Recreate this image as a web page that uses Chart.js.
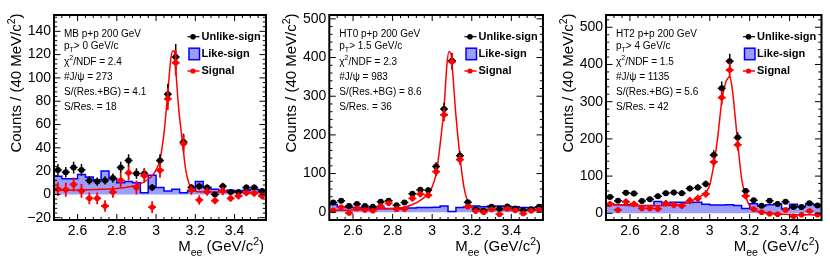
<!DOCTYPE html>
<html><head><meta charset="utf-8">
<script src="https://cdn.jsdelivr.net/npm/chart.js@4.4.0/dist/chart.umd.min.js"></script>
<style>
body{margin:0;background:#fff;width:830px;height:262px;position:relative;overflow:hidden}
canvas{position:absolute;top:0}
</style></head><body>
<canvas id="c1" width="277" height="262" style="left:0"></canvas>
<canvas id="c2" width="277" height="262" style="left:277px"></canvas>
<canvas id="c3" width="276" height="262" style="left:554px"></canvas>
<script>
// bin centres (GeV/c^2), 40 MeV bins
const mass = [2.50,2.54,2.58,2.62,2.66,2.70,2.74,2.78,2.82,2.86,2.90,2.94,2.98,3.02,3.06,3.10,3.14,3.18,3.22,3.26,3.30,3.34,3.38,3.42,3.46,3.50,3.54];
const xTicks = [2.6,2.8,3.0,3.2,3.4];

// MB
const unlike1 = [21,19,23,21,12,11,12,14,23,29,18,18,6,29,86,118,45,6,7,6,0,7,2,2,6,6,3];
const unlikeErr1 = [5,4.5,5,5,3.5,3.5,3.5,4,5,5.5,4.5,4.5,3,5.5,9,11,7,3,3,2.5,1.5,3,2,2,2.5,2.5,2];
const like1 = [15.5,13.5,13.5,17,15,12.5,20,13.5,10,11,10,1.5,16.5,6,3,4.5,1.5,3,11,6,4.5,3,3.5,3,3.5,4.5,3.5];
const signal1 = [4.5,4,8.5,3,-3.4,-3.4,-10,2,12,18.5,6,16,-11,20.7,82,113,43.5,3.7,-4.8,2.3,-5.4,2.8,-3.4,-1.4,1.4,0.9,-1.4];
const signalErr1 = [6,6,6,6,5,5,5,5,6,6.5,6,6,5,6.5,9.5,11,7.5,4,4,3.5,3,3.5,3,3,3,3,3];
const fitX1 = [2.48,2.6,2.7,2.8,2.88,2.92,2.96,2.98,3.0,3.02,3.04,3.06,3.075,3.085,3.093,3.10,3.115,3.135,3.15,3.17,3.19,3.22,3.3,3.56];
const fitY1 = [3.5,3.7,4.2,5,7,9,13,16,21,30,52,88,116,123,123,108,74,44,22,8,3,2.2,2,1.8];
const yTicks1 = [-20,0,20,40,60,80,100,120,140];

// HT0
const unlike2 = [25,30,16,21.5,16,14,27,30,18,25,48,58,57,118,267,392,146,26,8,4,14,9,15,10,5,8,14];
const unlikeErr2 = [5,5.5,4,4.5,4,4,5,5.5,4.5,5,7,7.5,7.5,11,16,20,12,5,3,2,4,3,4,3,2.5,3,4];
const like2 = [20,14,12,12,11,11,11,10,10,11,11,12,12,13,16,2,12,14,16,14,16,16,15,14,12,12,12];
const signal2 = [5,13,-2,10,6,4,16,23,8,8.5,36,47,44,105,252,389,136,14.5,3,0,7,-5,9,5,-3.5,4,7];
const signalErr2 = [6,6.5,5,5.5,5,5,6,6.5,5.5,6,8,8.5,8.5,12,17,21,13,6,4,3.5,5,4,5,4,3.5,4,5];
const fitX2 = [2.48,2.6,2.7,2.8,2.86,2.9,2.94,2.98,3.0,3.02,3.04,3.06,3.075,3.085,3.095,3.10,3.12,3.14,3.16,3.18,3.20,3.22,3.26,3.3,3.4,3.56];
const fitY2 = [5,6,8,10,13,20,31,48,66,100,175,272,385,415,410,385,250,145,66,27,15,11,8,7,6,6];
const yTicks2 = [0,100,200,300,400,500];

// HT2
const unlike3 = [44,34,55,53,33,38,45.5,54,56,54,67,69.5,79,157,336,409,204,60,35,20,33.5,25,31,17,17,27,21];
const unlikeErr3 = [6.5,6,7.5,7.5,6,6,7,7.5,7.5,7.5,8,8.5,9,12.5,18,20,14,8,6,4.5,6,5,5.5,4,4,5,4.5];
const like3 = [25,23,23,22,21,21,32,25,30,30,29,30,24,22,22,23,21,13,26,19,23,25,13,24,18,25,23];
const signal3 = [25,9,31,25,13,13,12,27,22,20,34,40,52,138,311,385,184,46.5,11,3,-1,-2.5,9,-8,-4,6,-4];
const signalErr3 = [8,7.5,8.5,8.5,7,7,7.5,8.5,8.5,8.5,9.5,10,10.5,14,19,21,15,9,7,6,7,6.5,7,6,6,6.5,6];
const fitX3 = [2.48,2.56,2.64,2.72,2.8,2.86,2.9,2.94,2.98,3.0,3.02,3.04,3.06,3.08,3.09,3.10,3.11,3.12,3.14,3.16,3.18,3.20,3.22,3.26,3.3,3.4,3.56];
const fitY3 = [24,22,20,20,21,24,31,42,56,76,130,205,300,352,362,368,345,300,190,92,45,20,10,3,0,-3,-4];
const yTicks3 = [0,100,200,300,400,500];

const FONT = "'Liberation Sans', Arial, Helvetica, sans-serif";

function richText(ctx, x, y, parts, size, weight, align) {
  // parts: [text, 0 normal | 1 subscript | 2 superscript]
  const f = (s) => (weight || '') + ' ' + s + 'px ' + FONT;
  let w = 0;
  parts.forEach(p => { ctx.font = f(p[1] ? size * 0.7 : size); w += ctx.measureText(p[0]).width; });
  let cx = align === 'right' ? x - w : (align === 'center' ? x - w / 2 : x);
  parts.forEach(p => {
    const s = p[1] ? size * 0.7 : size;
    ctx.font = f(s);
    const dy = p[1] === 1 ? size * 0.3 : (p[1] === 2 ? -size * 0.4 : 0);
    ctx.fillText(p[0], cx, y + dy);
    cx += ctx.measureText(p[0]).width;
  });
}

const errorBars = {
  id: 'errorBars',
  beforeDatasetDraw(chart, args) {
    const ds = chart.data.datasets[args.index];
    if (!ds.errs) return;
    const {ctx, chartArea: a, scales: {x, y}} = chart;
    ctx.save();
    ctx.beginPath(); ctx.rect(a.left, a.top, a.right - a.left, a.bottom - a.top); ctx.clip();
    ctx.strokeStyle = ds.borderColor; ctx.lineWidth = ds.errWidth;
    ds.data.forEach((p, i) => {
      const px = x.getPixelForValue(p.x), py = y.getPixelForValue(p.y);
      ctx.beginPath();
      ctx.moveTo(px, y.getPixelForValue(p.y - ds.errs[i]));
      ctx.lineTo(px, y.getPixelForValue(p.y + ds.errs[i]));
      ctx.moveTo(x.getPixelForValue(p.x - 0.02), py);
      ctx.lineTo(x.getPixelForValue(p.x + 0.02), py);
      ctx.stroke();
    });
    ctx.restore();
  }
};

function makePanel(id, o) {
  const pts = (ys) => mass.map((m, i) => ({x: m, y: ys[i]}));
  const hist = [];
  mass.forEach((m, i) => { hist.push({x: m - 0.02, y: o.like[i]}, {x: m + 0.02, y: o.like[i]}); });

  const decor = {
    id: 'decor',
    afterDraw(chart) {
      const {ctx, chartArea: a, scales: {x, y}} = chart;
      ctx.save();
      ctx.strokeStyle = '#000'; ctx.lineWidth = 1;
      // ticks on all four sides
      ctx.beginPath();
      for (let k = 63; k <= 88; k++) {
        const px = x.getPixelForValue(k * 0.04), L = k % 5 === 0 ? 6 : 3;
        ctx.moveTo(px, a.bottom); ctx.lineTo(px, a.bottom - L);
        ctx.moveTo(px, a.top); ctx.lineTo(px, a.top + L);
      }
      const k0 = Math.ceil(o.ymin / o.minor), k1 = Math.floor(o.ymax / o.minor);
      for (let k = k0; k <= k1; k++) {
        const py = y.getPixelForValue(k * o.minor), L = k % 5 === 0 ? 6.5 : 3.2;
        ctx.moveTo(a.left, py); ctx.lineTo(a.left + L, py);
        ctx.moveTo(a.right, py); ctx.lineTo(a.right - L, py);
      }
      ctx.stroke();
      ctx.lineWidth = 2;
      ctx.strokeRect(a.left, a.top, a.right - a.left, a.bottom - a.top);

      // axis titles
      ctx.fillStyle = '#000'; ctx.textBaseline = 'alphabetic';
      richText(ctx, a.right - 2, 251, [['M', 0], ['ee', 1], [' (GeV/c', 0], ['2', 2], [')', 0]], 15, '', 'right');
      ctx.save();
      ctx.translate(a.left - 33, 83); ctx.rotate(-Math.PI / 2);
      richText(ctx, 0, 0, [['Counts / (40 MeV/c', 0], ['2', 2], [')', 0]], 15, '', 'center');
      ctx.restore();

      // info block
      ctx.textBaseline = 'middle';
      const tx = a.left + 10, ty = a.top + 19, fs = 10;
      const lines = o.info;
      richText(ctx, tx, ty, [[lines[0], 0]], fs);
      richText(ctx, tx, ty + 12.7, [['p', 0], ['T', 1], [lines[1], 0]], fs);
      richText(ctx, tx, ty + 28.3, [['χ', 0], ['2', 2], [lines[2], 0]], fs);
      richText(ctx, tx, ty + 43.7, [[lines[3], 0]], fs);
      richText(ctx, tx, ty + 58.7, [[lines[4], 0]], fs);
      richText(ctx, tx, ty + 73.7, [[lines[5], 0]], fs);

      // legend
      const lx = a.right - 64.5, l0 = a.top + 21.7;
      ctx.lineWidth = 1.2; ctx.strokeStyle = '#000'; ctx.fillStyle = '#000';
      ctx.beginPath(); ctx.moveTo(lx - 14, l0); ctx.lineTo(lx - 2, l0); ctx.stroke();
      ctx.beginPath(); ctx.arc(lx - 8.5, l0, 2.8, 0, 2 * Math.PI); ctx.fill();
      ctx.fillStyle = '#9d9dfa'; ctx.fillRect(lx - 12.5, l0 + 11.5, 10.5, 11.5);
      ctx.strokeStyle = '#0000ff'; ctx.lineWidth = 1.5; ctx.strokeRect(lx - 12.5, l0 + 11.5, 10.5, 11.5);
      ctx.strokeStyle = '#ff0000'; ctx.fillStyle = '#ff0000'; ctx.lineWidth = 1.5;
      ctx.beginPath(); ctx.moveTo(lx - 14, l0 + 34.3); ctx.lineTo(lx - 2, l0 + 34.3); ctx.stroke();
      ctx.beginPath(); ctx.arc(lx - 8.5, l0 + 34.3, 2.6, 0, 2 * Math.PI); ctx.fill();
      ctx.fillStyle = '#000';
      richText(ctx, lx, l0, [['Unlike-sign', 0]], 11, 'bold');
      richText(ctx, lx, l0 + 17.3, [['Like-sign', 0]], 11, 'bold');
      richText(ctx, lx, l0 + 34.3, [['Signal', 0]], 11, 'bold');
      ctx.restore();
    }
  };

  new Chart(document.getElementById(id), {
    type: 'line',
    data: {
      datasets: [
        {data: hist, borderColor: '#0000ff', backgroundColor: '#9d9dfa', borderWidth: 1.5,
         fill: 'origin', pointRadius: 0, tension: 0, order: 4},
        {data: o.fitX.map((v, i) => ({x: v, y: o.fitY[i]})), borderColor: '#ff0000', borderWidth: 1.5,
         fill: false, pointRadius: 0, cubicInterpolationMode: 'monotone', order: 3},
        {data: pts(o.unlike), errs: o.unlikeErr, errWidth: 1.5, showLine: false,
         borderColor: '#000', backgroundColor: '#000', pointRadius: 3, pointBorderWidth: 0, order: 2},
        {data: pts(o.signal), errs: o.signalErr, errWidth: 1.8, showLine: false,
         borderColor: '#ff0000', backgroundColor: '#ff0000', pointRadius: 2.8, pointBorderWidth: 0, order: 1}
      ]
    },
    options: {
      responsive: false, animation: false,
      layout: {padding: {left: 0, right: o.padR, top: 15, bottom: 0}},
      plugins: {legend: {display: false}, tooltip: {enabled: false}},
      scales: {
        x: {
          type: 'linear', min: 2.48, max: 3.56,
          grid: {display: false, drawTicks: false}, border: {display: false},
          afterBuildTicks: s => { s.ticks = xTicks.map(v => ({value: v})); },
          afterFit: s => { s.height = 42; },
          ticks: {padding: 3, color: '#000', font: {family: FONT, size: 14},
                  callback: v => String(Math.round(v * 10) / 10)}
        },
        y: {
          min: o.ymin, max: o.ymax,
          grid: {display: false, drawTicks: false}, border: {display: false},
          afterBuildTicks: s => { s.ticks = o.yTicks.map(v => ({value: v})); },
          afterFit: s => { s.width = o.padL; },
          ticks: {padding: 3, color: '#000', font: {family: FONT, size: 14},
                  callback: v => String(v).replace('-', '\u2212')}
        }
      }
    },
    plugins: [errorBars, decor]
  });
}

makePanel('c1', {unlike: unlike1, unlikeErr: unlikeErr1, like: like1, signal: signal1, signalErr: signalErr1,
  fitX: fitX1, fitY: fitY1, yTicks: yTicks1, ymin: -22, ymax: 154, minor: 4, padL: 54, padR: 11,
  info: ['MB p+p 200 GeV', '> 0 GeV/c', '/NDF = 2.4', '#J/ψ = 273', 'S/(Res.+BG) = 4.1', 'S/Res. = 18']});
makePanel('c2', {unlike: unlike2, unlikeErr: unlikeErr2, like: like2, signal: signal2, signalErr: signalErr2,
  fitX: fitX2, fitY: fitY2, yTicks: yTicks2, ymin: -20, ymax: 510, minor: 20, padL: 52.3, padR: 11,
  info: ['HT0 p+p 200 GeV', '> 1.5 GeV/c', '/NDF = 2.3', '#J/ψ = 983', 'S/(Res.+BG) = 8.6', 'S/Res. = 36']});
makePanel('c3', {unlike: unlike3, unlikeErr: unlikeErr3, like: like3, signal: signal3, signalErr: signalErr3,
  fitX: fitX3, fitY: fitY3, yTicks: yTicks3, ymin: -18, ymax: 533, minor: 20, padL: 52, padR: 8.5,
  info: ['HT2 p+p 200 GeV', '> 4 GeV/c', '/NDF = 1.5', '#J/ψ = 1135', 'S/(Res.+BG) = 5.6', 'S/Res. = 42']});
</script>
</body></html>
